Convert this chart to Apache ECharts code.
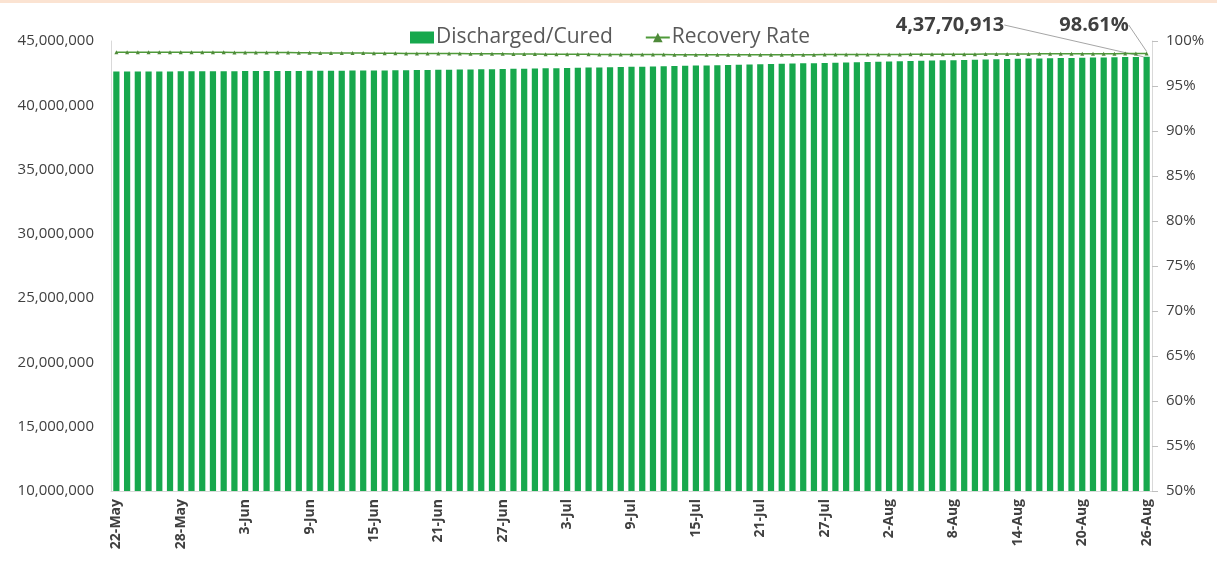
<!DOCTYPE html>
<html>
<head>
<meta charset="utf-8">
<script src="https://cdn.jsdelivr.net/npm/echarts@6/dist/echarts.min.js"></script>
<style>
html,body{margin:0;padding:0;background:#fff;}
#chart{width:1217px;height:561px;}
</style>
</head>
<body>
<div id="chart"></div>
<script>
// Dates 22-May .. 26-Aug (97 days)
const categories = [
 '22-May','23-May','24-May','25-May','26-May','27-May','28-May','29-May','30-May','31-May',
 '1-Jun','2-Jun','3-Jun','4-Jun','5-Jun','6-Jun','7-Jun','8-Jun','9-Jun','10-Jun',
 '11-Jun','12-Jun','13-Jun','14-Jun','15-Jun','16-Jun','17-Jun','18-Jun','19-Jun','20-Jun',
 '21-Jun','22-Jun','23-Jun','24-Jun','25-Jun','26-Jun','27-Jun','28-Jun','29-Jun','30-Jun',
 '1-Jul','2-Jul','3-Jul','4-Jul','5-Jul','6-Jul','7-Jul','8-Jul','9-Jul','10-Jul',
 '11-Jul','12-Jul','13-Jul','14-Jul','15-Jul','16-Jul','17-Jul','18-Jul','19-Jul','20-Jul',
 '21-Jul','22-Jul','23-Jul','24-Jul','25-Jul','26-Jul','27-Jul','28-Jul','29-Jul','30-Jul','31-Jul',
 '1-Aug','2-Aug','3-Aug','4-Aug','5-Aug','6-Aug','7-Aug','8-Aug','9-Aug','10-Aug',
 '11-Aug','12-Aug','13-Aug','14-Aug','15-Aug','16-Aug','17-Aug','18-Aug','19-Aug','20-Aug',
 '21-Aug','22-Aug','23-Aug','24-Aug','25-Aug','26-Aug'
];

const discharged = [
 42625000,42627600,42630100,42632600,42635000,42637500,42640000,42642800,42645600,42648400,
 42651200,42654000,42657000,42660500,42664000,42667500,42671000,42674500,42678000,42682500,
 42687500,42692500,42697500,42702800,42708000,42715000,42722500,42730500,42738500,42747000,
 42756000,42766500,42777500,42788500,42799500,42810500,42822000,42834500,42847500,42860500,
 42873500,42886500,42900000,42915000,42930000,42945000,42960000,42975000,42990000,43006000,
 43022000,43038000,43054000,43070000,43086000,43103000,43120000,43137000,43154000,43171000,
 43188000,43206000,43224000,43242000,43260000,43278000,43296000,43314000,43332000,43350000,43368000,
 43386000,43404000,43422000,43440000,43458000,43476000,43494000,43512000,43529500,43547000,
 43564000,43581000,43598000,43615000,43630000,43644500,43659000,43673000,43687000,43700000,
 43712000,43723500,43735000,43747000,43759000,43770913
];

const recoveryRate = [
 98.75,98.75,98.75,98.75,98.75,98.74,98.74,98.74,98.74,98.74,
 98.74,98.73,98.73,98.72,98.72,98.72,98.71,98.70,98.69,98.68,
 98.68,98.67,98.67,98.66,98.65,98.64,98.63,98.62,98.62,98.61,
 98.60,98.60,98.60,98.59,98.58,98.58,98.57,98.56,98.55,98.55,
 98.54,98.54,98.53,98.53,98.52,98.51,98.51,98.50,98.49,98.49,
 98.49,98.49,98.48,98.48,98.47,98.47,98.47,98.48,98.48,98.48,
 98.47,98.47,98.48,98.48,98.48,98.48,98.49,98.49,98.49,98.50,98.50,
 98.50,98.51,98.51,98.52,98.52,98.53,98.53,98.53,98.54,98.54,
 98.55,98.55,98.55,98.56,98.56,98.57,98.57,98.57,98.58,98.58,
 98.59,98.59,98.59,98.60,98.60,98.61
];

const leftTicks = { min: 10000000, max: 45000000, interval: 5000000 };
const rightTicks = { min: 50, max: 100, interval: 5 };
const lastLabelBar = '4,37,70,913';
const lastLabelRate = '98.61%';

const FONT = 'Open Sans';
const TXT = '#404040';
const last = categories.length - 1;

const barData = discharged.map((v, i) => i === last ? {
  value: v,
  label: { show: true, formatter: lastLabelBar },
  labelLine: { show: true }
} : v);
const lineData = recoveryRate.map((v, i) => i === last ? {
  value: v,
  label: { show: true, formatter: lastLabelRate },
  labelLine: { show: true }
} : v);

const chart = echarts.init(document.getElementById('chart'));
chart.setOption({
  animation: false,
  backgroundColor: '#fff',
  textStyle: { fontFamily: FONT },
  graphic: [{
    type: 'rect', left: 0, top: 0, shape: { width: 1217, height: 3 },
    style: { fill: '#fbe3d2' }, silent: true
  }],
  legend: {
    top: 22, left: 405,
    itemWidth: 24, itemHeight: 12, itemGap: 32,
    textStyle: { fontFamily: FONT, fontSize: 21, color: '#595959', padding: [0, 0, 0, -3] },
    data: [
      { name: 'Discharged/Cured', icon: 'rect' },
      { name: 'Recovery Rate' }
    ]
  },
  grid: { left: 111, right: 65, top: 41, bottom: 70, containLabel: false },
  xAxis: {
    type: 'category',
    data: categories,
    axisTick: { show: false },
    axisLine: { lineStyle: { color: '#d9d9d9' } },
    axisLabel: {
      interval: 5, rotate: 90, fontSize: 14, fontWeight: 'bold',
      color: TXT, fontFamily: FONT, margin: 8
    }
  },
  yAxis: [{
    type: 'value',
    min: leftTicks.min, max: leftTicks.max, interval: leftTicks.interval,
    splitLine: { show: false },
    axisLine: { show: true, lineStyle: { color: '#d9d9d9' } },
    axisTick: { show: false },
    axisLabel: {
      fontSize: 15, color: TXT, fontFamily: FONT, margin: 17,
      formatter: v => v.toLocaleString('en-US')
    }
  }, {
    type: 'value',
    min: rightTicks.min, max: rightTicks.max, interval: rightTicks.interval,
    splitLine: { show: false },
    axisLine: { show: true, lineStyle: { color: '#d9d9d9' } },
    axisTick: { show: true, length: 6, lineStyle: { color: '#bfbfbf' } },
    axisLabel: {
      fontSize: 15, color: TXT, fontFamily: FONT, margin: 14,
      formatter: '{value}%'
    }
  }],
  series: [{
    name: 'Discharged/Cured',
    type: 'bar',
    data: barData,
    barCategoryGap: '42%',
    itemStyle: { color: '#17a84d' },
    label: {
      fontSize: 20, fontWeight: 'bold', color: TXT, fontFamily: FONT
    },
    labelLine: { lineStyle: { color: '#a6a6a6', width: 1 } },
    labelLayout: p => p.dataIndex === last ? { x: 950, y: 25, align: 'center', verticalAlign: 'middle' } : {}
  }, {
    name: 'Recovery Rate',
    type: 'line',
    yAxisIndex: 1,
    data: lineData,
    symbol: 'triangle',
    symbolSize: 4,
    lineStyle: { color: '#4f9a3a', width: 1.5 },
    itemStyle: { color: '#4f8a3a' },
    label: {
      fontSize: 20, fontWeight: 'bold', color: TXT, fontFamily: FONT
    },
    labelLine: { lineStyle: { color: '#a6a6a6', width: 1 } },
    labelLayout: p => p.dataIndex === last ? { x: 1094, y: 25, align: 'center', verticalAlign: 'middle' } : {}
  }]
});
</script>
</body>
</html>
